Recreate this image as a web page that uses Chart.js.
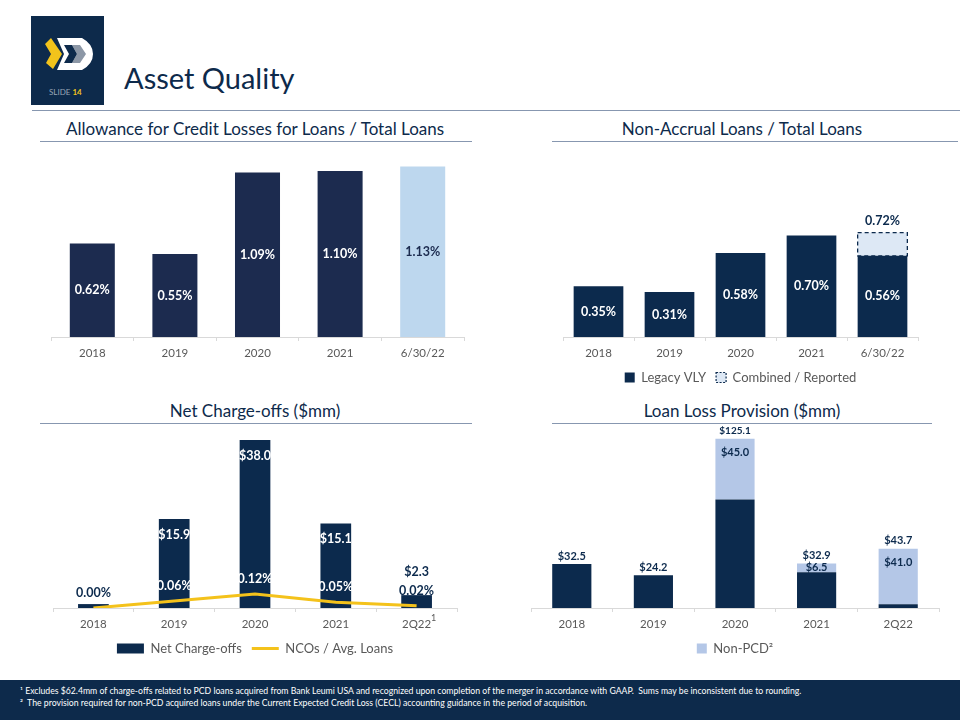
<!DOCTYPE html>
<html><head><meta charset="utf-8">
<script src="https://cdn.jsdelivr.net/npm/chart.js@4.4.0/dist/chart.umd.min.js"></script>
<style>
html,body{margin:0;padding:0;background:#fff;}
#page{position:relative;width:960px;height:720px;overflow:hidden;font-family:Lato,'Open Sans',sans-serif;background:#fff;}
.sec{position:absolute;font-size:17px;color:#0d2a4b;text-align:center;white-space:nowrap;line-height:20px;}
.rule{position:absolute;height:0;border-top:1.5px solid #8797b0;}
canvas{display:block;position:absolute;}
#title{position:absolute;left:124px;top:60px;font-size:29px;line-height:36px;color:#0d2a4b;white-space:nowrap;}
#foot{position:absolute;left:0;top:680px;width:960px;height:40px;background:#0d2a4b;color:#fff;font-size:8.7px;}
#foot div{position:absolute;left:20px;white-space:nowrap;}
</style></head>
<body><div id="page">
<svg style="position:absolute;left:0;top:0" width="120" height="110">
  <rect x="31" y="16" width="73" height="89" fill="#0d2a4b"/>
  <path d="M51,38 L62,54 L53,69 L46,63 L51,54 L45,44 Z" fill="#f2c31b"/>
  <path d="M57,38 L82,38 Q93,44 93,54 Q93,64 82,70 L57,70 L64,54 Z" fill="#ffffff"/>
  <path d="M72,45 L80,45 L86,54 L80,63 L72,63 L77,54 Z" fill="#8c97a6"/>
  <path d="M64,45 L72,45 L77,54 L72,63 L64,63 L69,54 Z" fill="#0d2a4b"/>
  <text x="49" y="95" font-size="8" font-family="Lato, sans-serif" fill="#9aa6b6">SLIDE <tspan fill="#f2c31b" font-weight="bold">14</tspan></text>
</svg>
<div id="title">Asset Quality</div>
<div class="rule" style="left:32px;top:110px;width:928px;"></div>

<div class="sec" style="left:40px;width:430px;top:119px;">Allowance for Credit Losses for Loans / Total Loans</div>
<div class="rule" style="left:40px;top:141px;width:432px;"></div>
<div class="sec" style="left:552px;width:380px;top:119px;">Non-Accrual Loans / Total Loans</div>
<div class="rule" style="left:552px;top:141px;width:406px;"></div>
<div class="sec" style="left:40px;width:430px;top:401px;">Net Charge-offs ($mm)</div>
<div class="rule" style="left:40px;top:423px;width:432px;"></div>
<div class="sec" style="left:552px;width:380px;top:401px;">Loan Loss Provision ($mm)</div>
<div class="rule" style="left:552px;top:423px;width:380px;"></div>

<canvas id="c1" width="430" height="220" style="left:40px;top:150px;"></canvas>
<canvas id="c2" width="410" height="245" style="left:550px;top:150px;"></canvas>
<canvas id="c3" width="430" height="236" style="left:40px;top:430px;"></canvas>
<canvas id="c4" width="435" height="241" style="left:525px;top:425px;"></canvas>

<div id="foot">
  <div style="top:5px;">¹ Excludes $62.4mm of charge-offs related to PCD loans acquired from Bank Leumi USA and recognized upon completion of the merger in accordance with GAAP.&nbsp; Sums may be inconsistent due to rounding.</div>
  <div style="top:17px;">²&nbsp; The provision required for non-PCD acquired loans under the Current Expected Credit Loss (CECL) accounting guidance in the period of acquisition.</div>
</div>
</div>
<script>
// ---------- data ----------
const yearsA = ['2018', '2019', '2020', '2021', '6/30/22'];
const yearsB = ['2018', '2019', '2020', '2021', '2Q22'];
const aclRatio = [0.62, 0.55, 1.09, 1.10, 1.13];
const nalLegacy = [0.35, 0.31, 0.58, 0.70, 0.56];
const nalReported = [null, null, null, null, 0.72];
const ncoAmount = [0.7, 15.9, 38.0, 15.1, 2.3];
const ncoRatio = [0.00, 0.06, 0.12, 0.05, 0.02];
const provTotal = [32.5, 24.2, 125.1, 32.9, 43.7];
const provNonPcd = [null, null, 45.0, 6.5, 41.0];

// ---------- styles ----------
const NAVY1 = '#1c2b4f', LIGHT1 = '#bdd7ee';
const NAVY = '#0c2a4d', LIGHT2 = '#dde8f5', LIGHT4 = '#b4c7e7', YELLOW = '#f4c21b';
const GRAY = '#595959', AXIS = '#d9d9d9';
const FONT = 'Lato, "Open Sans", sans-serif';
Chart.defaults.font.family = FONT;
Chart.defaults.animation = false;

function txt(ctx, s, x, y, color, size) {
  ctx.save();
  ctx.font = 'bold ' + size + 'px ' + FONT;
  ctx.fillStyle = color; ctx.textAlign = 'center'; ctx.textBaseline = 'middle';
  ctx.fillText(s, x, y);
  ctx.restore();
}
function xAxis(h) {
  return {
    grid: {display: true, drawOnChartArea: false, tickLength: 4, offset: true, color: AXIS},
    border: {display: true, color: AXIS},
    ticks: {color: GRAY, font: {size: 11.5}, padding: 5},
    afterFit: s => { s.height = h; }
  };
}
const noTip = {enabled: false};

// ---------- chart 1 ----------
new Chart(document.getElementById('c1'), {
  type: 'bar',
  data: {labels: yearsA, datasets: [{
    data: aclRatio,
    backgroundColor: [NAVY1, NAVY1, NAVY1, NAVY1, LIGHT1],
    borderWidth: 0, categoryPercentage: 1, barPercentage: 0.545
  }]},
  options: {
    responsive: false,
    layout: {padding: {left: 11, right: 6, top: 6, bottom: 0}},
    plugins: {legend: {display: false}, tooltip: noTip},
    scales: {x: xAxis(33), y: {display: false, min: 0, max: 1.2}}
  },
  plugins: [{id: 'l1', afterDatasetsDraw(chart) {
    chart.getDatasetMeta(0).data.forEach((el, i) => {
      txt(chart.ctx, aclRatio[i].toFixed(2) + '%', el.x, (el.y + el.base) / 2, i === 4 ? NAVY1 : '#fff', 12.5);
    });
  }}]
});

// ---------- chart 2 ----------
new Chart(document.getElementById('c2'), {
  type: 'bar',
  data: {labels: yearsA, datasets: [
    {label: 'Legacy VLY', data: nalLegacy, backgroundColor: NAVY, borderWidth: 0,
     categoryPercentage: 1, barPercentage: 0.70},
    {label: 'Combined / Reported',
     data: nalReported.map((v, i) => v == null ? null : +(v - nalLegacy[i]).toFixed(2)),
     backgroundColor: LIGHT2, borderColor: NAVY, borderWidth: 0,
     categoryPercentage: 1, barPercentage: 0.70}
  ]},
  options: {
    responsive: false,
    layout: {padding: {left: 13, right: 42, top: 71, bottom: 1}},
    plugins: {
      tooltip: noTip,
      legend: {position: 'bottom', labels: {
        color: GRAY, font: {size: 13}, boxWidth: 10, boxHeight: 10, padding: 10,
        generateLabels(chart) {
          const items = Chart.defaults.plugins.legend.labels.generateLabels(chart);
          items[0].lineWidth = 0;
          items[1].lineWidth = 1.2; items[1].strokeStyle = NAVY; items[1].lineDash = [2, 1.5];
          return items;
        }
      }}
    },
    scales: {x: Object.assign(xAxis(24), {stacked: true}), y: {display: false, stacked: true, min: 0, max: 0.8}}
  },
  plugins: [{id: 'l2', afterDatasetsDraw(chart) {
    const ctx = chart.ctx;
    chart.getDatasetMeta(1).data.forEach((el, i) => {
      if (nalReported[i] == null) return;
      ctx.save();
      ctx.setLineDash([4, 3]); ctx.strokeStyle = NAVY; ctx.lineWidth = 1.3;
      ctx.strokeRect(el.x - el.width / 2, el.y, el.width, el.base - el.y);
      ctx.restore();
      txt(ctx, nalReported[i].toFixed(2) + '%', el.x, el.y - 12, NAVY, 12.5);
    });
    chart.getDatasetMeta(0).data.forEach((el, i) => {
      txt(ctx, nalLegacy[i].toFixed(2) + '%', el.x, (el.y + el.base) / 2, '#fff', 12.5);
    });
  }}]
});

// ---------- chart 3 ----------
new Chart(document.getElementById('c3'), {
  data: {labels: yearsB, datasets: [
    {type: 'bar', label: 'Net Charge-offs', data: ncoAmount, backgroundColor: NAVY, borderWidth: 0,
     categoryPercentage: 1, barPercentage: 0.38, yAxisID: 'y', order: 1, clip: 0, pointStyle: 'rect'},
    {type: 'line', label: 'NCOs / Avg. Loans', data: ncoRatio, borderColor: YELLOW, backgroundColor: YELLOW,
     borderWidth: 3, pointRadius: 0, tension: 0, yAxisID: 'y1', order: 0, pointStyle: 'line'}
  ]},
  options: {
    responsive: false,
    layout: {padding: {left: 13, right: 13, top: 10, bottom: 1}},
    plugins: {
      tooltip: noTip,
      legend: {position: 'bottom', labels: {
        color: GRAY, font: {size: 13}, usePointStyle: true, pointStyleWidth: 27, boxHeight: 10, padding: 10,
        sort: (a, b) => a.datasetIndex - b.datasetIndex
      }}
    },
    scales: {x: xAxis(24), y: {display: false, min: 0, max: 30}, y1: {display: false, min: 0, max: 1.44}}
  },
  plugins: [{id: 'l3', afterDatasetsDraw(chart) {
    const ctx = chart.ctx, area = chart.chartArea;
    const mb = chart.getDatasetMeta(0), ml = chart.getDatasetMeta(1);
    ml.data.forEach((pt, i) => {
      const bar = mb.data[i];
      const top = Math.max(bar.y, area.top);
      const ly = pt.y - 15;
      txt(ctx, ncoRatio[i].toFixed(2) + '%', pt.x, ly, ly > top ? '#fff' : NAVY, 12.5);
      if (ncoAmount[i] >= 1) {
        const s = '$' + ncoAmount[i].toFixed(1);
        if (bar.base - top > 40) txt(ctx, s, bar.x, top + 16, '#fff', 12.5);
        else txt(ctx, s, bar.x, top - 23, NAVY, 12.5);
      }
    });
    const xs = chart.scales.x;
    ctx.save(); ctx.font = '9px ' + FONT; ctx.fillStyle = GRAY; ctx.textAlign = 'center'; ctx.textBaseline = 'middle';
    ctx.fillText('1', xs.getPixelForValue(4) + 17, area.bottom + 10);
    ctx.restore();
  }}]
});

// ---------- chart 4 ----------
new Chart(document.getElementById('c4'), {
  type: 'bar',
  data: {labels: yearsB, datasets: [
    {label: 'Legacy', data: provTotal.map((t, i) => +(t - (provNonPcd[i] || 0)).toFixed(1)),
     backgroundColor: NAVY, borderWidth: 0, categoryPercentage: 1, barPercentage: 0.48},
    {label: 'Non-PCD²', data: provNonPcd, backgroundColor: LIGHT4, borderWidth: 0,
     categoryPercentage: 1, barPercentage: 0.48}
  ]},
  options: {
    responsive: false,
    layout: {padding: {left: 6, right: 21, top: 7, bottom: 1}},
    plugins: {
      tooltip: noTip,
      legend: {position: 'bottom', labels: {
        color: GRAY, font: {size: 13}, boxWidth: 10, boxHeight: 10, padding: 10,
        filter: item => item.datasetIndex === 1
      }}
    },
    scales: {x: Object.assign(xAxis(24), {stacked: true}), y: {display: false, stacked: true, min: 0, max: 130}}
  },
  plugins: [{id: 'l4', afterDatasetsDraw(chart) {
    const ctx = chart.ctx;
    const m0 = chart.getDatasetMeta(0), m1 = chart.getDatasetMeta(1);
    provTotal.forEach((t, i) => {
      const has = provNonPcd[i] != null;
      const topEl = has ? m1.data[i] : m0.data[i];
      txt(ctx, '$' + t.toFixed(1), topEl.x, topEl.y - 8, NAVY, i === 2 ? 10 : 11);
      if (has) {
        const el = m1.data[i];
        txt(ctx, '$' + provNonPcd[i].toFixed(1), el.x, Math.min(el.y + 14, (el.y + el.base) / 2), NAVY, 11);
      }
    });
  }}]
});
</script>
</body></html>
